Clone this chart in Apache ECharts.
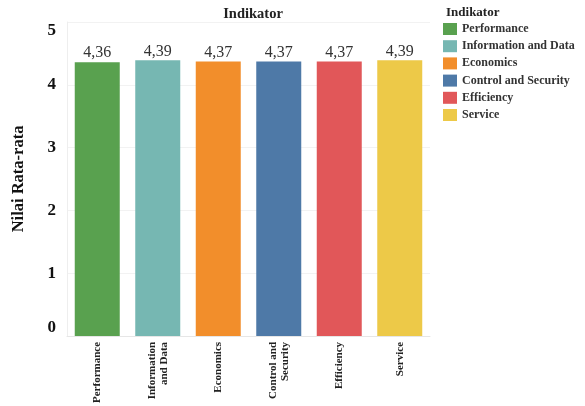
<!DOCTYPE html>
<html><head><meta charset="utf-8">
<script src="https://cdn.jsdelivr.net/npm/echarts@6/dist/echarts.min.js"></script>
<style>html,body{margin:0;padding:0;background:#fff}#c{width:585px;height:406px}</style>
</head><body><div id="c"></div>
<script>
const categories = ["Performance", "Information and Data", "Economics", "Control and Security", "Efficiency", "Service"];
const axisLabels = ["Performance", "Information\nand Data", "Economics", "Control and\nSecurity", "Efficiency", "Service"];
const values = [4.36, 4.39, 4.37, 4.37, 4.37, 4.39];
const colors = ["#59A14F", "#76B7B2", "#F28E2B", "#4E79A7", "#E15759", "#EDC948"];
const yTicks = [0, 1, 2, 3, 4, 5];

const serif = "'Liberation Serif', 'DejaVu Serif', serif";
const series = categories.map((name, i) => ({
  name: name,
  type: 'bar',
  barWidth: 45,
  barGap: '-100%',
  itemStyle: { color: colors[i] },
  label: {
    show: true, position: 'top', distance: 1,
    fontFamily: serif, fontSize: 16, color: '#333',
    formatter: p => p.value.toFixed(2).replace('.', ',')
  },
  data: values.map((v, j) => j === i ? v : '-')
}));

const chart = echarts.init(document.getElementById('c'));
chart.setOption({
  animation: false,
  title: [
    { text: 'Indikator', left: 248, top: 2, textAlign: 'center',
      textStyle: { fontFamily: serif, fontSize: 14.5, fontWeight: 'bold', color: '#222' } },
    { text: 'Indikator', left: 441, top: 1,
      textStyle: { fontFamily: serif, fontSize: 13, fontWeight: 'bold', color: '#222' } }
  ],
  legend: {
    orient: 'vertical', left: 443, top: 23, padding: 0,
    itemWidth: 14, itemHeight: 12, itemGap: 5.2, icon: 'rect',
    textStyle: { fontFamily: serif, fontSize: 12, fontWeight: 'bold', color: '#333' },
    data: categories
  },
  grid: { left: 67, right: 155, top: 22, bottom: 69 },
  xAxis: {
    type: 'category',
    data: categories,
    axisLine: { lineStyle: { color: '#e6e6e6' } },
    axisTick: { show: false },
    axisLabel: {
      rotate: 90, interval: 0, margin: 6,
      fontFamily: serif, fontSize: 11, fontWeight: 'bold', color: '#222', lineHeight: 12,
      formatter: (v, i) => axisLabels[i]
    }
  },
  yAxis: {
    type: 'value', min: 0, max: 5, interval: 1,
    name: 'Nilai Rata-rata', nameLocation: 'middle', nameGap: 40, nameRotate: 90,
    nameTextStyle: { fontFamily: serif, fontSize: 16.5, fontWeight: 'bold', color: '#111' },
    axisLine: { show: true, lineStyle: { color: '#eeeeee' } },
    axisTick: { show: false },
    splitLine: { lineStyle: { color: '#f2f2f2' } },
    axisLabel: {
      fontFamily: serif, fontSize: 17, fontWeight: 'bold', color: '#111', margin: 11,
      verticalAlignMinLabel: 'bottom', verticalAlignMaxLabel: 'top',
      formatter: v => yTicks.includes(v) ? String(v) : ''
    }
  },
  series: series
});
</script></body></html>
